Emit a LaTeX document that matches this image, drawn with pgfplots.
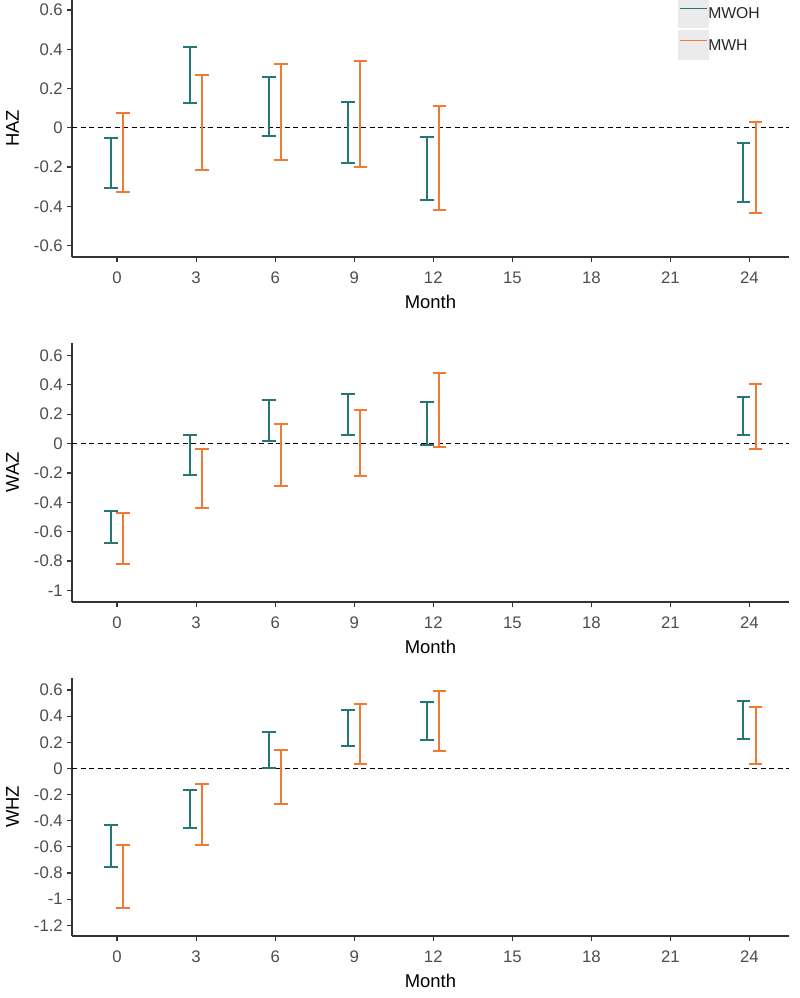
\documentclass[border=0pt]{standalone}
\usepackage{fontspec}
\setmainfont{Liberation Sans}
\usepackage{pgfplots}
\pgfplotsset{compat=1.18}
\definecolor{mteal}{RGB}{38,118,118}
\definecolor{morange}{RGB}{240,122,52}
\definecolor{keygrey}{RGB}{235,235,235}
\definecolor{ticktext}{RGB}{77,77,77}
\definecolor{axisline}{RGB}{51,51,51}
\pgfplotsset{
  zpanel/.style={
    scale only axis, width=717bp,
    xmin=-1.71, xmax=25.5,
    axis lines=left,
    axis line style={-, axisline, line width=1.2bp},
    tick align=outside, major tick length=5bp,
    tick style={axisline, line width=1.2bp},
    xtick={0,3,6,9,12,15,18,21,24},
    xticklabels={0,3,6,9,12,15,18,21,24},
    ticklabel style={font=\fontsize{16.8}{18}\selectfont, text=ticktext},
    xticklabel style={anchor=north, inner sep=0pt, yshift=-10bp},
    yticklabel style={anchor=east, inner sep=0pt, xshift=-4bp},
    xlabel=Month,
    label style={font=\fontsize{18.5}{20}\selectfont, text=black},
    xlabel style={at={(axis description cs:0.5,0)}, anchor=north, inner sep=0pt, yshift=-38bp},
    ylabel style={at={(axis description cs:-0.0739,0.5)}, anchor=south, inner sep=0pt},
    unbounded coords=jump,
    clip=false,
  },
  tealbar/.style={mteal, line width=2bp, mark=-, mark size=6.75bp, mark options={solid, line width=2bp}, forget plot},
  orangebar/.style={morange, line width=2bp, mark=-, mark size=6.75bp, mark options={solid, line width=2bp}, forget plot},
  zeroline/.style={black, line width=1.3bp, dash pattern=on 5bp off 3.5bp, forget plot},
}
\begin{document}
\begin{tikzpicture}
\useasboundingbox (0,0) rectangle (800bp,998bp);
% ---------------- HAZ ----------------
\begin{axis}[zpanel, at={(72bp,741bp)}, anchor=south west, height=257bp,
  ymin=-0.658, ymax=0.651,
  ytick={-0.6,-0.4,-0.2,0,0.2,0.4,0.6},
  yticklabels={-0.6,-0.4,-0.2,0,0.2,0.4,0.6},
  ylabel=HAZ,
  legend style={at={(0.845,1.008)}, anchor=north west, draw=none, fill=none,
    inner sep=0pt, outer sep=0pt, row sep=2.7bp,
    nodes={inner sep=0pt, anchor=base west},
    font=\fontsize{15.8}{17}\selectfont, text=black!85},
  legend cell align=left,
  legend image code/.code={
    \fill[keygrey] (0bp,-8.75bp) rectangle (30bp,20.25bp);
    \draw[#1, line width=1.4bp] (1.5bp,10bp) -- (28.5bp,10bp);
  },
]
\addplot[zeroline] coordinates {(-1.71,0) (25.5,0)};
\addplot[tealbar] coordinates {
(-0.23,-0.305) (-0.23,-0.053) (0,nan)
(2.77,0.125) (2.77,0.410) (3,nan)
(5.77,-0.040) (5.77,0.260) (6,nan)
(8.77,-0.177) (8.77,0.132) (9,nan)
(11.77,-0.369) (11.77,-0.045) (12,nan)
(23.77,-0.376) (23.77,-0.076)
};
\addplot[orangebar] coordinates {
(0.23,-0.328) (0.23,0.074) (0,nan)
(3.23,-0.213) (3.23,0.267) (3,nan)
(6.23,-0.162) (6.23,0.325) (6,nan)
(9.23,-0.198) (9.23,0.340) (9,nan)
(12.23,-0.420) (12.23,0.109) (12,nan)
(24.23,-0.432) (24.23,0.030)
};
\addlegendimage{mteal}
\addlegendentry{MWOH}
\addlegendimage{morange}
\addlegendentry{MWH}
\end{axis}
% ---------------- WAZ ----------------
\begin{axis}[zpanel, at={(72bp,396bp)}, anchor=south west, height=259bp,
  ymin=-1.079, ymax=0.685,
  ytick={-1,-0.8,-0.6,-0.4,-0.2,0,0.2,0.4,0.6},
  yticklabels={-1,-0.8,-0.6,-0.4,-0.2,0,0.2,0.4,0.6},
  ylabel=WAZ,
]
\addplot[zeroline] coordinates {(-1.71,0) (25.5,0)};
\addplot[tealbar] coordinates {
(-0.23,-0.674) (-0.23,-0.462) (0,nan)
(2.77,-0.212) (2.77,0.057) (3,nan)
(5.77,0.018) (5.77,0.296) (6,nan)
(8.77,0.057) (8.77,0.337) (9,nan)
(11.77,-0.007) (11.77,0.280) (12,nan)
(23.77,0.057) (23.77,0.316)
};
\addplot[orangebar] coordinates {
(0.23,-0.817) (0.23,-0.471) (0,nan)
(3.23,-0.441) (3.23,-0.039) (3,nan)
(6.23,-0.289) (6.23,0.134) (6,nan)
(9.23,-0.221) (9.23,0.230) (9,nan)
(12.23,-0.020) (12.23,0.480) (12,nan)
(24.23,-0.036) (24.23,0.405)
};
\end{axis}
% ---------------- WHZ ----------------
\begin{axis}[zpanel, at={(72bp,62bp)}, anchor=south west, height=258bp,
  ymin=-1.282, ymax=0.692,
  ytick={-1.2,-1,-0.8,-0.6,-0.4,-0.2,0,0.2,0.4,0.6},
  yticklabels={-1.2,-1,-0.8,-0.6,-0.4,-0.2,0,0.2,0.4,0.6},
  ylabel=WHZ,
]
\addplot[zeroline] coordinates {(-1.71,0) (25.5,0)};
\addplot[tealbar] coordinates {
(-0.23,-0.756) (-0.23,-0.431) (0,nan)
(2.77,-0.454) (2.77,-0.163) (3,nan)
(5.77,0.000) (5.77,0.281) (6,nan)
(8.77,0.171) (8.77,0.449) (9,nan)
(11.77,0.214) (11.77,0.505) (12,nan)
(23.77,0.225) (23.77,0.516)
};
\addplot[orangebar] coordinates {
(0.23,-1.070) (0.23,-0.585) (0,nan)
(3.23,-0.585) (3.23,-0.120) (3,nan)
(6.23,-0.273) (6.23,0.140) (6,nan)
(9.23,0.031) (9.23,0.495) (9,nan)
(12.23,0.130) (12.23,0.590) (12,nan)
(24.23,0.031) (24.23,0.472)
};
\end{axis}
\end{tikzpicture}
\end{document}
